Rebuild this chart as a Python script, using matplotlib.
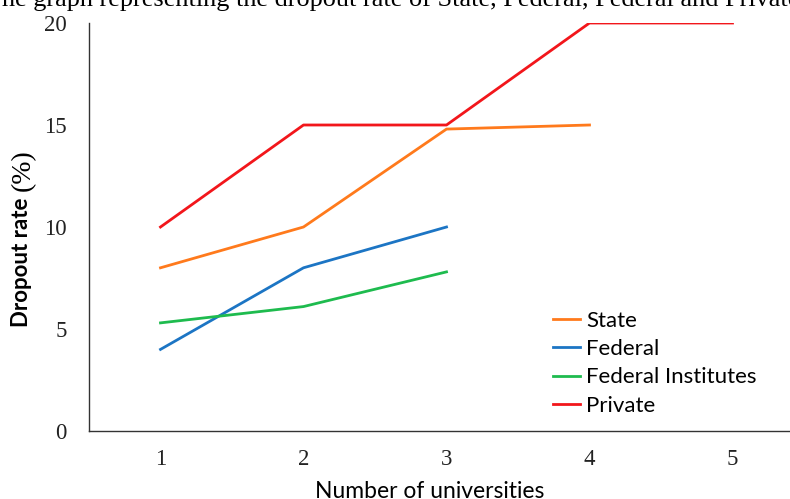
import matplotlib
matplotlib.use("Agg")
import matplotlib.pyplot as plt

# Dropout rate (%) by number of universities
x_state = [1, 2, 3, 4]
state = [8, 10, 14.8, 15]
x_federal = [1, 2, 3]
federal = [4, 8, 10]
x_institutes = [1, 2, 3]
institutes = [5.3, 6.1, 7.8]
x_private = [1, 2, 3, 4, 5]
private = [10, 15, 15, 20, 20]

x_ticks = [1, 2, 3, 4, 5]
y_ticks = [0, 5, 10, 15, 20]

W, H = 790, 499
fig = plt.figure(figsize=(W / 100, H / 100), dpi=100)
ax = fig.add_axes([89 / W, 1 - 431 / H, 715 / W, 408 / H])

ax.plot(x_state, state, color="#FF7A1C", lw=2.0, label="State")
ax.plot(x_federal, federal, color="#1C75C4", lw=2.0, label="Federal")
ax.plot(x_institutes, institutes, color="#1EBB4E", lw=2.0, label="Federal Institutes")
ax.plot(x_private, private, color="#F2161B", lw=2.0, label="Private")

ax.set_xlim(0.5, 5.5)
ax.set_ylim(0, 20)
ax.set_xticks(x_ticks)
ax.set_yticks(y_ticks)
ax.tick_params(length=0, labelsize=16.5, colors="#222222")
ax.tick_params(axis="y", pad=16)
ax.tick_params(axis="x", pad=13)
for lab in ax.get_xticklabels() + ax.get_yticklabels():
    lab.set_fontfamily("Liberation Serif")

for side in ("top", "right"):
    ax.spines[side].set_visible(False)
for side in ("left", "bottom"):
    ax.spines[side].set_color("#333333")
    ax.spines[side].set_linewidth(1.0)

leg = ax.legend(loc="upper left", bbox_to_anchor=(464 / 715, 1 - 288 / 408),
                frameon=False, prop={"family": "Lato", "size": 16},
                handlelength=1.2, handletextpad=0.3, labelspacing=0.37,
                borderaxespad=0, borderpad=0)

# Axis titles
fig.text(22 / W, 1 - 262 / H, "Dropout rate", rotation=90, ha="center", va="center",
         fontfamily="Lato", fontweight="bold", fontsize=16)
fig.text(23 / W, 1 - 170 / H, "(%)", rotation=90, ha="center", va="center",
         fontfamily="Liberation Serif", fontsize=20)
fig.text(430 / W, 1 - 491 / H, "Number of universities", ha="center", va="center",
         fontfamily="Lato", fontsize=16.5)

# Caption line running above the plot
fig.text(-14 / W, 1 - 6 / H,
         "The graph representing the dropout rate of State, Federal, Federal and Private",
         ha="left", va="baseline", fontfamily="Liberation Serif", fontsize=18.9)

fig.savefig("out.png", dpi=100)
